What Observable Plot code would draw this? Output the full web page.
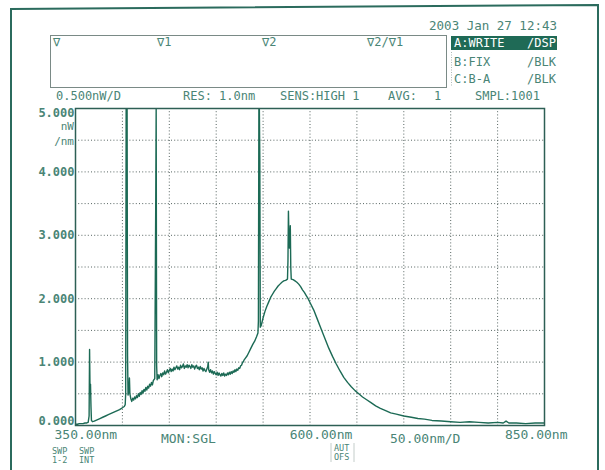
<!DOCTYPE html>
<html><head><meta charset="utf-8">
<script src="https://cdn.jsdelivr.net/npm/d3@7"></script>
<script src="https://cdn.jsdelivr.net/npm/@observablehq/plot@0.6"></script>
<style>
body{margin:0;background:#fff;}
#chart{position:relative;width:605px;height:470px;overflow:hidden;background:#fff;}
</style></head><body><div id="chart"></div>
<script>
// Spectrum (wavelength in nm, power in nW/nm)
const wavelengths = [
350,352,354,356,358,360,362,363.5,364.5,365,365.5,366,366.5,367,368,370,373,376,379,382,385,388,391,394,397,400,402,403,403.5,404,404.5,405,405.5,406,407,407.5,408,409,
410,411,412,413,414,415,416,417,418,419,420,421,422,423,424,425,426,427,428,429,430,431,432,433,434.5,435.5,436,436.5,437,
438,439,440,441,442,443,444,445,446,447,448,449,450,451,452,453,454,455,456,457,458,459,460,461,462,463,464,465,466,467,468,469,470,471,472,473,474,475,476,477,478,479,480,481,482,483,484,485,486,487,488,489,490,491,491.5,492,493,494,495,496,497,498,499,500,501,502,503,504,505,506,507,508,509,510,511,512,513,514,515,516,517,518,519,520,521,522,523,524,525,526,527,528,529,530,
531,533,535,537,539,541,543,544.5,545,545.5,546,546.5,547,548,
550,552,554,556,558,560,562,564,566,568,570,572,574,576,576.5,577,577.5,578,579,579.5,580,582,584,586,588,590,592,594,596,598,600,604,608,612,616,620,624,628,632,636,640,644,648,652,656,660,665,670,675,680,686,692,700,708,715,722,730,740,750,760,770,780,790,800,806,809,812,820,830,840,850
];
const power = [
0.02,0.02,0.03,0.03,0.03,0.04,0.04,0.05,0.15,1.2,0.55,0.65,0.3,0.08,0.06,0.07,0.09,0.11,0.13,0.15,0.17,0.19,0.21,0.23,0.25,0.28,0.30,0.33,0.5,5.0,5.0,5.0,1.1,0.48,0.55,0.75,0.5,0.42,
0.38,0.43,0.40,0.45,0.42,0.47,0.44,0.50,0.46,0.52,0.49,0.55,0.51,0.57,0.54,0.60,0.56,0.62,0.59,0.65,0.62,0.68,0.64,0.71,0.74,3.4,5.0,0.95,0.72,
0.80,0.74,0.79,0.82,0.77,0.83,0.80,0.86,0.81,0.84,0.88,0.83,0.87,0.90,0.85,0.89,0.86,0.92,0.88,0.91,0.94,0.89,0.92,0.88,0.95,0.91,0.93,0.97,0.90,0.94,0.92,0.96,0.91,0.95,0.93,0.90,0.96,0.92,0.94,0.89,0.93,0.95,0.90,0.92,0.88,0.93,0.89,0.91,0.86,0.90,0.87,0.85,0.89,0.93,1.0,0.88,0.84,0.88,0.83,0.86,0.81,0.85,0.82,0.80,0.84,0.79,0.83,0.80,0.78,0.82,0.79,0.83,0.78,0.81,0.79,0.83,0.80,0.84,0.81,0.85,0.82,0.86,0.84,0.88,0.85,0.89,0.87,0.91,0.90,0.94,0.95,0.99,1.01,1.04,
1.06,1.10,1.16,1.22,1.28,1.33,1.40,1.46,1.65,5.0,5.0,4.2,1.55,1.58,
1.70,1.80,1.88,1.95,2.02,2.07,2.12,2.16,2.20,2.23,2.26,2.28,2.29,2.31,2.6,3.38,3.0,2.8,3.15,2.5,2.31,2.30,2.28,2.26,2.23,2.19,2.14,2.10,2.05,2.00,1.94,1.82,1.67,1.52,1.37,1.22,1.09,0.97,0.86,0.76,0.68,0.61,0.55,0.50,0.45,0.41,0.36,0.31,0.27,0.24,0.20,0.18,0.15,0.13,0.11,0.10,0.08,0.07,0.06,0.05,0.06,0.05,0.04,0.05,0.04,0.07,0.04,0.04,0.03,0.04,0.04
];
const xGrid = [350,400,450,500,550,600,650,700,750,800,850];
const yGrid = [0,0.5,1,1.5,2,2.5,3,3.5,4,4.5,5];
const yLabels = [1,2,3,4];
const yTop = [5];
const yBottom = [0];
const xLabelStart = [350];
const xLabelMid = [600];
const xLabelEnd = [850];

const data = wavelengths.map((w, i) => ({w, p: power[i]}));
const trace = "#1c6a55";
const ink = "#4a8576";
const fmtY = d3.format(".3f");
const fmtX = d => d3.format(".2f")(d) + "nm";
const mono = "'DejaVu Sans Mono', monospace";

const plot = Plot.plot({
  width: 605, height: 470,
  marginLeft: 75, marginRight: 61, marginTop: 108, marginBottom: 45,
  x: {domain: [350, 850], axis: null},
  y: {domain: [0, 5], axis: null},
  style: {fontFamily: mono, fontSize: "12px", background: "white", overflow: "visible"},
  marks: [
    Plot.gridX(xGrid, {stroke: "#3a4a46", strokeOpacity: 0.85, strokeDasharray: "1,2.2", strokeWidth: 1}),
    Plot.gridY(yGrid, {stroke: "#3a4a46", strokeOpacity: 0.85, strokeDasharray: "1,2.2", strokeWidth: 1}),
    Plot.line(data, {x: "w", y: "p", stroke: trace, strokeWidth: 1.4, clip: true}),
    Plot.frame({stroke: "#2d5f55", strokeWidth: 1.5}),
    Plot.text(yLabels, {frameAnchor: "left", y: d => d, text: fmtY, textAnchor: "end", dx: -1, fill: ink, fontWeight: "bold", fontSize: 12}),
    Plot.text(yTop, {frameAnchor: "left", y: d => d, text: fmtY, textAnchor: "end", dx: -1, dy: 5, fill: ink, fontWeight: "bold", fontSize: 12}),
    Plot.text(yBottom, {frameAnchor: "left", y: d => d, text: fmtY, textAnchor: "end", dx: -1, dy: -4, fill: ink, fontWeight: "bold", fontSize: 12}),
    Plot.text(xLabelStart, {frameAnchor: "bottom", x: d => d, text: fmtX, textAnchor: "start", dx: -21, dy: 13, fill: ink, fontSize: 13}),
    Plot.text(xLabelMid, {frameAnchor: "bottom", x: d => d, text: fmtX, textAnchor: "middle", dx: 11, dy: 13, fill: ink, fontSize: 13}),
    Plot.text(xLabelEnd, {frameAnchor: "bottom", x: d => d, text: fmtX, textAnchor: "end", dx: 23, dy: 13, fill: ink, fontSize: 13})
  ]
});
document.getElementById("chart").appendChild(plot);

// Screen furniture of the instrument
const svg = d3.select(plot);
// outer frame
svg.append("path").attr("d", "M11,480 L11,9 L598,5 L598,480").attr("fill", "none")
  .attr("stroke", "#2b6b5d").attr("stroke-width", 2);
// marker box
svg.append("rect").attr("x", 50.5).attr("y", 35.5).attr("width", 396).attr("height", 52)
  .attr("fill", "none").attr("stroke", "#7a8a86").attr("stroke-width", 1);
svg.append("line").attr("x1", 451.5).attr("x2", 451.5).attr("y1", 52).attr("y2", 87)
  .attr("stroke", "#9aa8a4").attr("stroke-width", 0.8).attr("stroke-dasharray", "1,1.5");
svg.append("rect").attr("x", 451).attr("y", 36).attr("width", 106).attr("height", 14).attr("fill", "#1f6a56");
svg.append("path").attr("d", "M331,443 L331,462 M354,443 L354,462").attr("stroke", "#b5c0bd").attr("stroke-width", 0.8);

const g = svg.append("g").attr("font-family", mono).attr("fill", ink);
function t(x, y, s, size, anchor, fill, weight) {
  g.append("text").attr("x", x).attr("y", y).attr("dominant-baseline", "central")
    .attr("font-size", size).attr("text-anchor", anchor || "start")
    .attr("fill", fill || ink).attr("font-weight", weight || "normal").text(s);
}
t(53, 42, "∇", 12);
t(157, 42, "∇1", 12);
t(262, 42, "∇2", 12);
t(367, 42, "∇2/∇1", 12);
t(557, 25, "2003 Jan 27 12:43", 12.5, "end");
t(454, 43, "A:WRITE", 12, "start", "#fff");
t(556, 43, "/DSP", 12, "end", "#fff");
t(454, 62, "B:FIX", 12);
t(556, 62, "/BLK", 12, "end");
t(454, 79, "C:B-A", 12);
t(556, 79, "/BLK", 12, "end");
t(56, 96, "0.500nW/D", 12);
t(183, 96, "RES: 1.0nm", 12);
t(280, 96, "SENS:HIGH 1", 12);
t(388, 96, "AVG:", 12);
t(434, 96, "1", 12);
t(540, 96, "SMPL:1001", 12, "end");
// units under the top label
t(74, 126, "nW", 11, "end");
t(74, 141, "/nm", 11, "end");
// bottom row
t(161, 438, "MON:SGL", 13);
t(390, 438, "50.00nm/D", 13);
t(52, 451, "SWP", 8.5);
t(52, 459.5, "1-2", 8.5);
t(79, 451, "SWP", 8.5);
t(79, 459.5, "INT", 8.5);
t(334, 448, "AUT", 8.5);
t(334, 456.5, "OFS", 8.5);
</script>
</body></html>
